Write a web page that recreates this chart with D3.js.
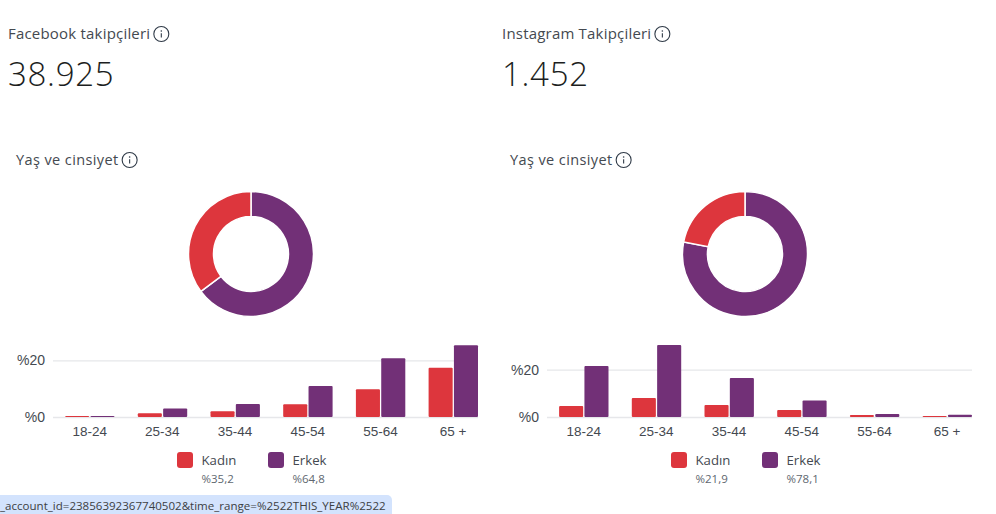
<!DOCTYPE html>
<html>
<head>
<meta charset="utf-8">
<script src="https://cdn.jsdelivr.net/npm/d3@7"></script>
<style>
  html, body { margin: 0; padding: 0; background: #fff; overflow: hidden; }
  svg { display: block; font-family: "Open Sans", sans-serif; }
</style>
</head>
<body>
<svg class="chart"></svg>
<script>
const ageGroups = ["18-24", "25-34", "35-44", "45-54", "55-64", "65 +"];
const genders = ["Kadın", "Erkek"];

const fbFollowers = "38.925";
const fbKadin = [0.35, 1.3, 2.0, 4.5, 9.8, 17.4];
const fbErkek = [0.35, 3.0, 4.6, 10.9, 20.7, 25.3];
const fbShare = [35.2, 64.8];
const fbShareLabels = ["%35,2", "%64,8"];

const igFollowers = "1.452";
const igKadin = [4.65, 8.0, 5.1, 3.0, 0.8, 0.45];
const igErkek = [21.6, 30.4, 16.5, 7.0, 1.25, 0.9];
const igShare = [21.9, 78.1];
const igShareLabels = ["%21,9", "%78,1"];

const width = 996;
const height = 514;
const baseline = 417;
const red = "#dd363d";
const purple = "#723077";

const svg = d3.select(".chart").attr("width", width).attr("height", height);

function infoIcon(g, cx, cy) {
  g.append("circle").attr("cx", cx).attr("cy", cy).attr("r", 7.5)
    .attr("fill", "none").attr("stroke", "#2f3a47").attr("stroke-width", 1.1);
  g.append("circle").attr("cx", cx).attr("cy", cy - 3).attr("r", 0.8).attr("fill", "#2f3a47");
  g.append("line").attr("x1", cx).attr("x2", cx).attr("y1", cy - 0.8).attr("y2", cy + 3.6)
    .attr("stroke", "#2f3a47").attr("stroke-width", 1.1);
}

function drawPanel(opts) {
  const g = svg.append("g").attr("transform", `translate(${opts.dx}, 0)`);

  const title = g.append("text").attr("x", 8).attr("y", 39)
    .style("font-size", "15px").style("letter-spacing", "0.2px")
    .attr("fill", "#444950").text(opts.title);
  infoIcon(g, 8 + title.node().getComputedTextLength() + 11, 34);

  g.append("text").attr("x", 8).attr("y", 86)
    .style("font-size", "33px").style("font-weight", 300).style("letter-spacing", "0.7px")
    .attr("fill", "#1c1e21").text(opts.followers);

  const sub = g.append("text").attr("x", 16).attr("y", 165)
    .style("font-size", "14.5px").style("letter-spacing", "0.4px")
    .attr("fill", "#444950").text("Yaş ve cinsiyet");
  infoIcon(g, 16 + sub.node().getComputedTextLength() + 11, 160);

  // donut, erkek starts at 12 o'clock and goes clockwise
  const pie = d3.pie().sort(null).startAngle(0).endAngle(2 * Math.PI);
  const arc = d3.arc().innerRadius(37.5).outerRadius(62.5);
  const slices = pie([opts.share[1], opts.share[0]]);
  g.append("g").attr("transform", "translate(251, 254)")
    .selectAll("path").data(slices).enter().append("path")
    .attr("d", arc)
    .attr("fill", (d, i) => i === 0 ? purple : red)
    .attr("stroke", "#fff").attr("stroke-width", 1.5);

  // bars
  const x0 = d3.scaleBand().domain(ageGroups).range([53.3, 489.5]);
  const x1 = d3.scaleBand().domain(genders).range([11.8, 61.2]).paddingInner(0.05);
  const y = d3.scaleLinear().domain([0, 20]).range([baseline, opts.y20]);

  const yAxis = g.append("g").attr("transform", "translate(53, 0)")
    .call(d3.axisLeft(y).tickValues([0, 20]).tickFormat(d => `%${d}`).tickSize(-425).tickPadding(8));
  yAxis.select(".domain").remove();
  yAxis.selectAll("line").attr("stroke", "#e6e7ea").attr("stroke-width", 1.3);
  yAxis.selectAll("text").style("font-size", "14px").attr("fill", "#444950");

  const xAxis = g.append("g").attr("transform", `translate(0, ${baseline})`)
    .call(d3.axisBottom(x0).tickSize(0).tickPadding(9));
  xAxis.select(".domain").remove();
  xAxis.selectAll("text").style("font-size", "13.5px").attr("fill", "#444950");

  const series = [opts.kadin, opts.erkek];
  genders.forEach((gender, s) => {
    g.append("g").selectAll("rect").data(series[s]).enter().append("rect")
      .attr("x", (d, i) => x0(ageGroups[i]) + x1(gender))
      .attr("y", d => y(d))
      .attr("width", x1.bandwidth())
      .attr("height", d => baseline - y(d))
      .attr("rx", 1)
      .attr("fill", s === 0 ? red : purple);
  });

  // legend
  const legendX = d3.scaleOrdinal().domain(genders).range([177, 268]);
  genders.forEach((gender, s) => {
    const lx = legendX(gender);
    g.append("rect").attr("x", lx).attr("y", 452).attr("width", 16).attr("height", 16)
      .attr("rx", 3).attr("fill", s === 0 ? red : purple);
    g.append("text").attr("x", lx + 24.5).attr("y", 465)
      .style("font-size", "13.2px").attr("fill", "#444950").text(gender);
    g.append("text").attr("x", lx + 24.5).attr("y", 483)
      .style("font-size", "11.5px").attr("fill", "#606770").text(opts.shareLabels[s]);
  });
}

drawPanel({ dx: 0, title: "Facebook takipçileri", followers: fbFollowers, kadin: fbKadin, erkek: fbErkek,
  share: fbShare, shareLabels: fbShareLabels, y20: 360.3 });
drawPanel({ dx: 494, title: "Instagram Takipçileri", followers: igFollowers, kadin: igKadin, erkek: igErkek,
  share: igShare, shareLabels: igShareLabels, y20: 369.7 });

// browser status bubble
svg.append("path").attr("d", "M0,495 H387 a5,5 0 0 1 5,5 V514 H0 Z").attr("fill", "#d3e3fd");
svg.append("text").attr("x", 0).attr("y", 510)
  .style("font-size", "11.55px").attr("fill", "#3c4043")
  .text("_account_id=23856392367740502&time_range=%2522THIS_YEAR%2522");
</script>
</body>
</html>
